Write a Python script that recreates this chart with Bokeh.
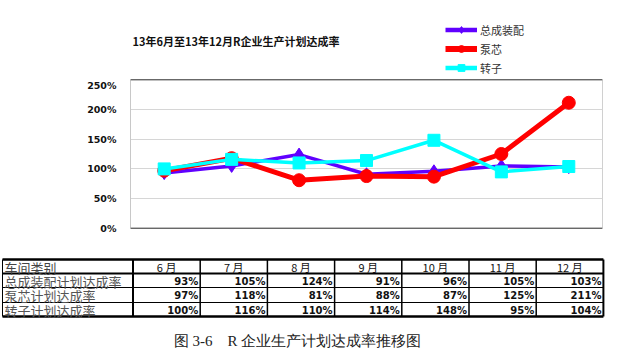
from bokeh.plotting import figure
from bokeh.models import Range1d, Legend, LegendItem, Span, FixedTicker
from bokeh.embed import file_html
from bokeh.resources import INLINE

months = ["6月", "7月", "8月", "9月", "10月", "11月", "12月"]
header_label = "车间类别"
series_names = ["总成装配", "泵芯", "转子"]
row_labels = ["总成装配计划达成率", "泵芯计划达成率", "转子计划达成率"]
assembly = [93, 105, 124, 91, 96, 105, 103]
pumpcore = [97, 118, 81, 88, 87, 125, 211]
rotor = [100, 116, 110, 114, 148, 95, 104]
y_ticks = [0, 50, 100, 150, 200, 250]
title_text = "13年6月至13年12月R企业生产计划达成率"
caption_text = "图 3-6　R 企业生产计划达成率推移图"

colors = ["#6000ff", "#ff0000", "#00ffff"]
markers = ["diamond", "circle", "square"]
msizes = [13, 13, 12]
lwidths = [3.5, 5, 3.5]
series = [assembly, pumpcore, rotor]


def blank(height):
    f = figure(width=625, height=height, x_range=Range1d(0, 625), y_range=Range1d(height, 0),
               output_backend="svg", toolbar_location=None,
               x_axis_location=None, y_axis_location=None,
               min_border=0, min_border_left=0, min_border_right=0,
               min_border_top=0, min_border_bottom=0)
    f.grid.visible = False
    f.outline_line_color = None
    f.background_fill_color = "white"
    f.border_fill_color = "white"
    return f


# ---- header: title + legend
h = blank(79)
h.text(x=[132], y=[40], text=[title_text], text_font={"value": "Noto Sans CJK SC"},
       text_font_size="11px", text_font_style="bold", text_color="#111",
       text_baseline="middle", text_align="left")
items = []
for name, c, mk, ms, lw in zip(series_names, colors, markers, msizes, lwidths):
    # legend-only renderers, their single point lies outside the visible range
    lr = h.line(x=[-500, -400], y=[-500, -500], line_color=c, line_width=lw + 1)
    sr = h.scatter(x=[-500], y=[-500], marker=mk, size=ms - 2, fill_color=c, line_color=c)
    items.append(LegendItem(label=name, renderers=[lr, sr]))
legend = Legend(items=items, location=(445, 3), orientation="vertical",
                glyph_width=32, glyph_height=17, label_height=17, spacing=2,
                label_standoff=3, padding=0, margin=0,
                label_text_font="Noto Sans CJK SC", label_text_font_size="11px",
                label_text_color="#333", border_line_color=None, background_fill_alpha=0)
h.add_layout(legend, "center")

# ---- main chart
p = figure(width=625, height=161, x_range=months, y_range=Range1d(0, 250),
           output_backend="svg", toolbar_location=None, x_axis_location=None,
           min_border_left=130, min_border_right=23, min_border_top=0, min_border_bottom=12)
p.background_fill_color = "white"
p.border_fill_color = "white"
p.outline_line_color = "#d0d0d0"
p.xgrid.grid_line_color = None
p.ygrid.grid_line_color = "#d6d6d6"
p.yaxis.ticker = FixedTicker(ticks=y_ticks)
p.yaxis.major_label_overrides = {t: f"{t}%" for t in y_ticks}
p.yaxis.major_label_text_font = "DejaVu Sans"
p.yaxis.major_label_text_font_style = "bold"
p.yaxis.major_label_text_font_size = "9.5px"
p.yaxis.major_label_text_color = "#111"
p.yaxis.axis_line_color = "#c8c8c8"
p.yaxis.major_tick_line_color = None
p.yaxis.minor_tick_line_color = None
p.yaxis.major_label_standoff = 8

p.add_layout(Span(location=250, dimension="width", line_color="black", line_width=1.5))
p.add_layout(Span(location=0, dimension="width", line_color="black", line_width=1.5))

for vals, c, mk, ms, lw in zip(series, colors, markers, msizes, lwidths):
    p.line(months, vals, line_color=c, line_width=lw)
    p.scatter(months, vals, marker=mk, size=ms, fill_color=c, line_color=c)

# ---- table + caption
t = blank(112)
top = 240
col0 = 132.5
cw = 67.2
edges = [col0 + k * cw for k in range(len(months) + 1)]
row_y = [259 - top, 273 - top, 287 - top, 302 - top, 316 - top]
row_w = [2.5, 2, 1.2, 1.2, 2.5]
right = edges[-1]
for y, w in zip(row_y, row_w):
    t.line([2, right], [y, y], line_color="black", line_width=w)
t.line([2, 2], [row_y[0], row_y[-1]], line_color="black", line_width=1)
for i, x in enumerate(edges):
    t.line([x, x], [row_y[0], row_y[-1]], line_color="black",
           line_width=2 if i in (0, len(edges) - 1) else 1.5)

centers = [(edges[i] + edges[i + 1]) / 2 for i in range(len(months))]
hy = (row_y[0] + row_y[1]) / 2 + 0.5
t.text(x=[4], y=[hy], text=[header_label], text_font_size="13px",
       text_font={"value": "Noto Sans CJK SC"}, text_color="#444",
       text_baseline="middle", text_align="left")
t.text(x=centers, y=[hy] * len(months), text=[m.replace("月", " 月") for m in months],
       text_font_size="11px", text_font={"value": "Noto Sans CJK SC"}, text_color="#111",
       text_baseline="middle", text_align="center")
for r, (lab, vals) in enumerate(zip(row_labels, series)):
    yc = (row_y[r + 1] + row_y[r + 2]) / 2 + 0.5
    t.text(x=[4], y=[yc], text=[lab], text_font_size="13px",
           text_font={"value": "Noto Sans CJK SC"}, text_color="#555",
           text_baseline="middle", text_align="left")
    t.text(x=[e - 2 for e in edges[1:]], y=[yc] * len(vals), text=[f"{v}%" for v in vals],
           text_font_size="10px", text_font={"value": "DejaVu Sans"}, text_font_style="bold",
           text_color="#111", text_baseline="middle", text_align="right")

t.text(x=[297], y=[340 - top], text=[caption_text], text_font_size="15px",
       text_font={"value": "Liberation Serif"}, text_color="#222",
       text_baseline="middle", text_align="center")

open("out.html", "w").write(file_html([h, p, t], INLINE))
